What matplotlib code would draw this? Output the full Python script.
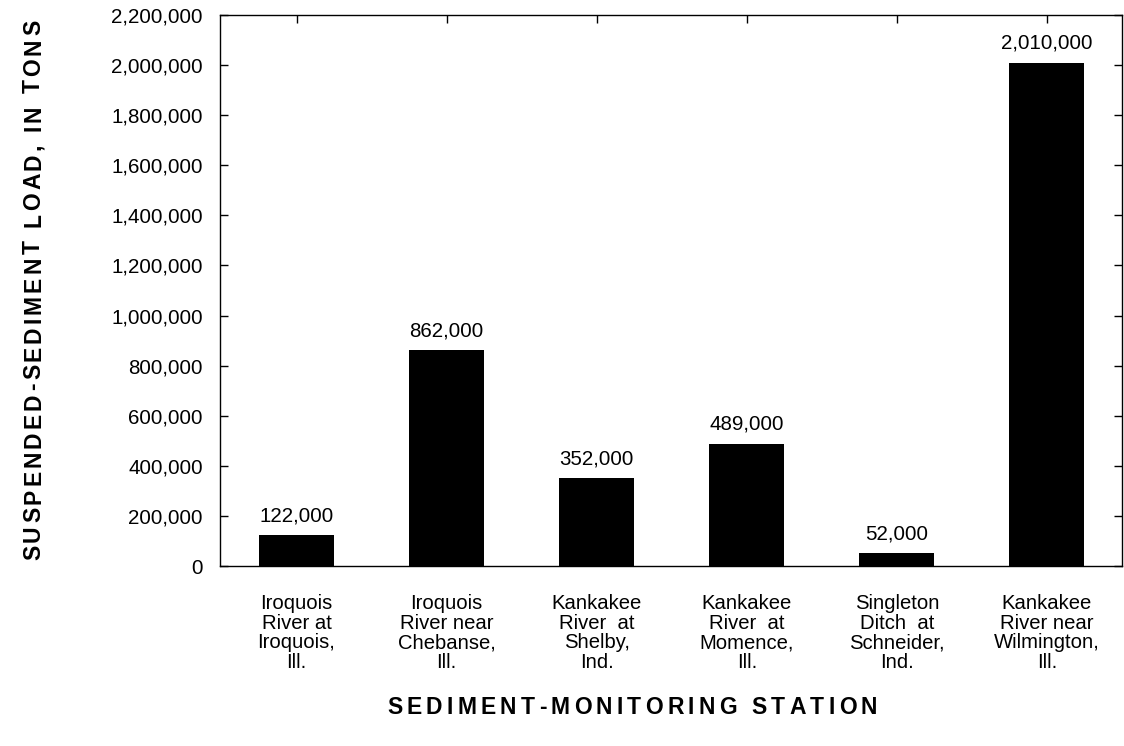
#!/usr/bin/env python3

import matplotlib.pyplot as plt
from matplotlib.font_manager import FontProperties
from matplotlib.ticker import FuncFormatter

stations = [
    "Iroquois\nRiver at\nIroquois,\nIll.",
    "Iroquois\nRiver near\nChebanse,\nIll.",
    "Kankakee\nRiver  at\nShelby,\nInd.",
    "Kankakee\nRiver  at\nMomence,\nIll.",
    "Singleton\nDitch  at\nSchneider,\nInd.",
    "Kankakee\nRiver near\nWilmington,\nIll.",
]
loads = [122000, 862000, 352000, 489000, 52000, 2010000]
yticks = list(range(0, 2200001, 200000))

W, H = 1124, 746


def spaced_text(fig, text, center, span, size, vertical=False):
    """Draw bold text letter-spaced so it fills `span` pixels."""
    fp = FontProperties(family="Liberation Sans", weight="bold", size=size)
    r = fig.canvas.get_renderer()

    def width(s):
        return r.get_text_width_height_descent(s, fp, ismath=False)[0]

    # advance widths, measured between two reference glyphs
    base = width("HH")
    widths = [width("H" + ch + "H") - base for ch in text]
    gap = (span - sum(widths)) / (len(text) - 1)
    cx, cy = center
    pos = -span / 2
    for ch, w in zip(text, widths):
        mid = pos + w / 2
        if ch != " ":
            if vertical:
                fig.text(cx / W, 1 - (cy - mid) / H, ch, fontproperties=fp,
                         rotation=90, rotation_mode="anchor",
                         ha="center", va="baseline")
            else:
                fig.text((cx + mid) / W, 1 - cy / H, ch, fontproperties=fp,
                         ha="center", va="baseline")
        pos += w + gap


def main():
    plt.rcParams["font.family"] = ["Liberation Sans", "DejaVu Sans"]
    fig = plt.figure(figsize=(W / 100, H / 100), dpi=100)
    ax = fig.add_axes([220 / W, 1 - 566 / H, 902 / W, 551 / H])

    xs = list(range(len(loads)))
    ax.bar(xs, loads, width=0.5, color="black")
    for x, v in zip(xs, loads):
        ax.annotate(f"{v:,}", (x, v), xytext=(0, 7), textcoords="offset points",
                    ha="center", va="bottom", fontsize=14.8)

    ax.set_xlim(-0.51, 5.5)
    ax.set_ylim(0, 2200000)
    ax.set_yticks(yticks)
    ax.yaxis.set_major_formatter(FuncFormatter(lambda v, _: f"{int(v):,}"))
    ax.set_xticks(xs)
    ax.set_xticklabels(stations, fontsize=14.6, linespacing=1.05, va="top")
    ax.tick_params(axis="x", direction="in", length=6, width=1,
                   bottom=False, top=True, pad=20)
    ax.tick_params(axis="y", direction="in", length=6, width=1,
                   left=True, right=True, labelsize=14.8, pad=12.5)
    for s in ax.spines.values():
        s.set_linewidth(1.0)

    spaced_text(fig, "SUSPENDED-SEDIMENT LOAD, IN TONS", (40, 290), 540, 16.5,
                vertical=True)
    spaced_text(fig, "SEDIMENT-MONITORING STATION", (632, 714), 490, 16.5)

    fig.savefig("out.png", dpi=100)


if __name__ == "__main__":
    main()
